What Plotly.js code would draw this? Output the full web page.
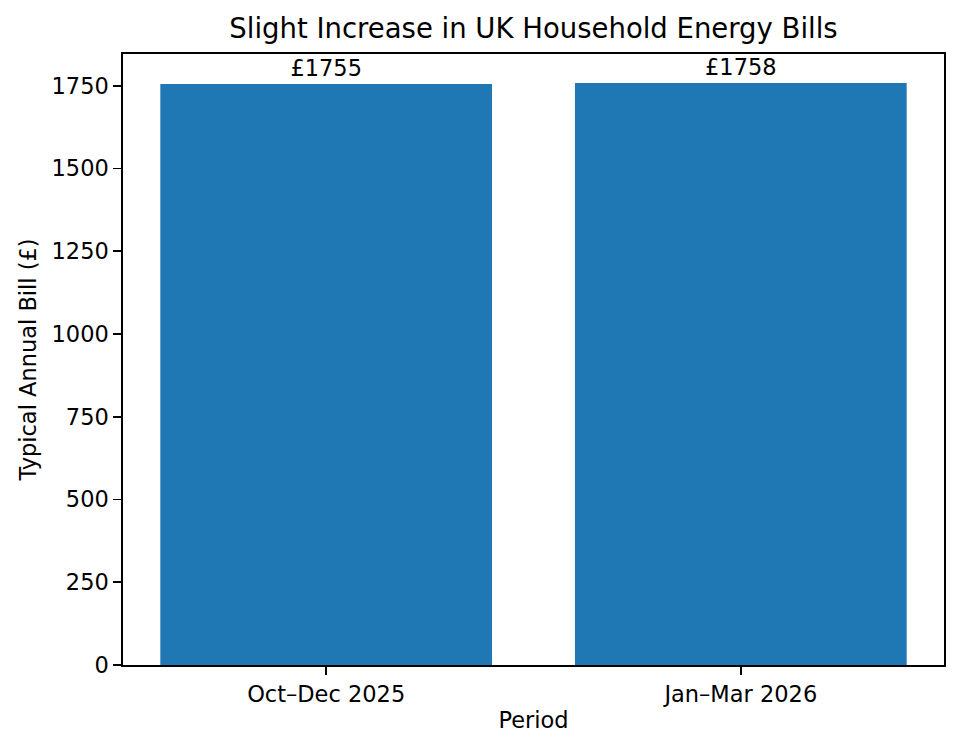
<!DOCTYPE html>
<html>
<head>
<meta charset="utf-8">
<script src="https://cdn.plot.ly/plotly-3.0.1.min.js"></script>
<style>html,body{margin:0;padding:0;background:#fff;}#chart{width:960px;height:752px;}</style>
</head>
<body>
<div id="chart"></div>
<script>
const periods = ["Oct–Dec 2025", "Jan–Mar 2026"];
const bills = [1755, 1758];
const yTicks = [0, 250, 500, 750, 1000, 1250, 1500, 1750];

const font = "DejaVu Sans, sans-serif";
const fs = 22.5;
const trace = {
  type: "bar",
  x: [0, 1],
  y: bills,
  width: 0.8,
  marker: {color: "#1f77b4"},
  text: bills.map(v => "£" + v),
  textposition: "outside",
  textfont: {family: font, size: fs, color: "#000"},
  cliponaxis: false,
  hoverinfo: "none"
};
const layout = {
  width: 960, height: 752,
  margin: {l: 123, r: 16, t: 54, b: 87},
  paper_bgcolor: "#fff", plot_bgcolor: "#fff",
  font: {family: font, color: "#000"},
  title: {text: "Slight Increase in UK Household Energy Bills", font: {family: font, size: 27.5, color: "#000"}, x: 0.5, xref: "paper", y: 0.962, yanchor: "middle"},
  xaxis: {
    range: [-0.49, 1.49],
    tickmode: "array", tickvals: [0, 1], ticktext: periods,
    ticks: "outside", ticklen: 8, tickwidth: 1.7, tickcolor: "#000",
    tickfont: {family: font, size: fs, color: "#000"},
    showgrid: false, zeroline: false,
    showline: true, linecolor: "#000", linewidth: 1.7, mirror: true,
    title: {text: "Period", font: {family: font, size: fs, color: "#000"}, standoff: 6}
  },
  yaxis: {
    range: [0, 1845.9],
    tickmode: "array", tickvals: yTicks, ticktext: yTicks.map(String),
    ticks: "outside", ticklen: 8, tickwidth: 1.7, tickcolor: "#000",
    tickfont: {family: font, size: fs, color: "#000"},
    showgrid: false, zeroline: false,
    showline: true, linecolor: "#000", linewidth: 1.7, mirror: true,
    title: {text: "Typical Annual Bill (£)", font: {family: font, size: fs, color: "#000"}, standoff: 9}
  },
  showlegend: false
};
Plotly.newPlot("chart", [trace], layout, {displayModeBar: false, staticPlot: true});
</script>
</body>
</html>
